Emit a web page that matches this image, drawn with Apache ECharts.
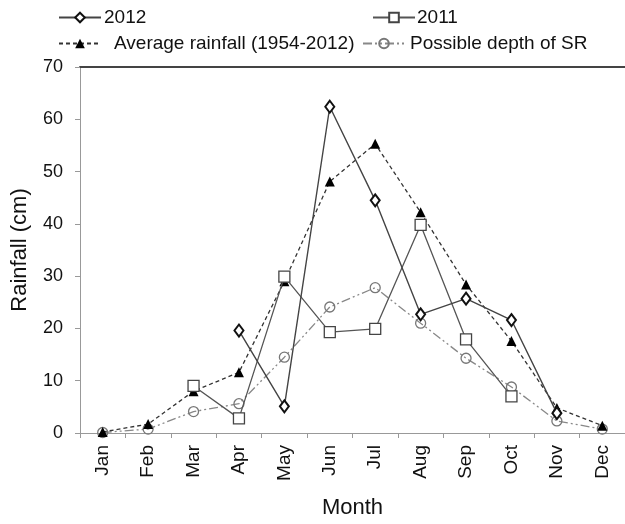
<!DOCTYPE html>
<html>
<head>
<meta charset="utf-8">
<script src="https://cdn.jsdelivr.net/npm/echarts@6/dist/echarts.min.js"></script>
<style>html,body{margin:0;padding:0;background:#fff;}#c{width:625px;height:524px;}</style>
</head>
<body>
<div id="c"></div>
<script>
var months = ['Jan','Feb','Mar','Apr','May','Jun','Jul','Aug','Sep','Oct','Nov','Dec'];
var yTicks = [0,10,20,30,40,50,60,70];
var rain2012 = [null,null,null,19.6,5.1,62.4,44.5,22.7,25.7,21.6,3.8,null];
var rain2011 = [null,null,9.0,2.8,29.9,19.3,19.9,39.8,17.9,7.0,null,null];
var avgRain = [0.2,1.7,8.0,11.6,29.0,48.1,55.3,42.2,28.4,17.6,4.8,1.4];
var depthSR = [0.1,0.75,4.1,5.6,14.5,24.1,27.8,21.0,14.3,8.8,2.3,0.75];
var names = ['2012','2011','Average rainfall (1954-2012)','Possible depth of SR'];

var font = 'Liberation Sans, Arial, sans-serif';
var chart = echarts.init(document.getElementById('c'), null, {renderer:'canvas'});
function leg(name, left, top, gap){
  return {data:[name], left:left, top:top, itemWidth:42, itemHeight:12, itemGap:0,
    selectedMode:false, padding:0,
    textStyle:{fontFamily:font, fontSize:19, color:'#111', padding:[0,0,0,gap]}};
}
chart.setOption({
  animation:false,
  legend:[leg(names[0],58,8,-2), leg(names[1],372,8,-3), leg(names[2],58,34,8), leg(names[3],362,34,0)],
  grid:{left:80, top:67, width:550, height:373},
  xAxis:[{
    type:'category', data:months, boundaryGap:true,
    axisLine:{lineStyle:{color:'#999', width:1}},
    axisTick:{show:true, length:5, lineStyle:{color:'#999'}},
    axisLabel:{rotate:90, margin:12, fontFamily:font, fontSize:19, color:'#111'},
    name:'Month', nameLocation:'middle', nameGap:64,
    nameTextStyle:{fontFamily:font, fontSize:22, color:'#111'}
  },{
    type:'category', data:months, position:'top',
    axisLine:{lineStyle:{color:'#444', width:2}},
    axisTick:{show:false}, axisLabel:{show:false}
  }],
  yAxis:{
    type:'value', min:0, max:70, interval:10,
    splitLine:{show:false},
    axisLine:{show:true, lineStyle:{color:'#999', width:1}},
    axisTick:{show:true, length:5, lineStyle:{color:'#999'}},
    axisLabel:{margin:17, fontFamily:font, fontSize:18, color:'#111',
      formatter:function(v){return yTicks.indexOf(v)>=0?String(v):'';}},
    name:'Rainfall (cm)', nameLocation:'middle', nameGap:49,
    nameTextStyle:{fontFamily:font, fontSize:22, color:'#111'}
  },
  series:[
    {name:names[3], type:'line', data:depthSR, z:2,
      symbol:'circle', symbolSize:10,
      lineStyle:{color:'#888', width:1.3, type:[9,3,2,3,2,3]},
      itemStyle:{color:'rgba(255,255,255,0)', borderColor:'#777', borderWidth:1.3}},
    {name:names[2], type:'line', data:avgRain, z:3,
      symbol:'triangle', symbolSize:[10,10],
      lineStyle:{color:'#333', width:1.3, type:[4,3]},
      itemStyle:{color:'#000', borderColor:'#000', borderWidth:0}},
    {name:names[1], type:'line', data:rain2011, z:4,
      symbol:'rect', symbolSize:11,
      lineStyle:{color:'#555', width:1.3},
      itemStyle:{color:'#fff', borderColor:'#444', borderWidth:1.3}},
    {name:names[0], type:'line', data:rain2012, z:5,
      symbol:'diamond', symbolSize:[9,12],
      lineStyle:{color:'#444', width:1.4},
      itemStyle:{color:'#fff', borderColor:'#111', borderWidth:2}}
  ]
});
</script>
</body>
</html>
